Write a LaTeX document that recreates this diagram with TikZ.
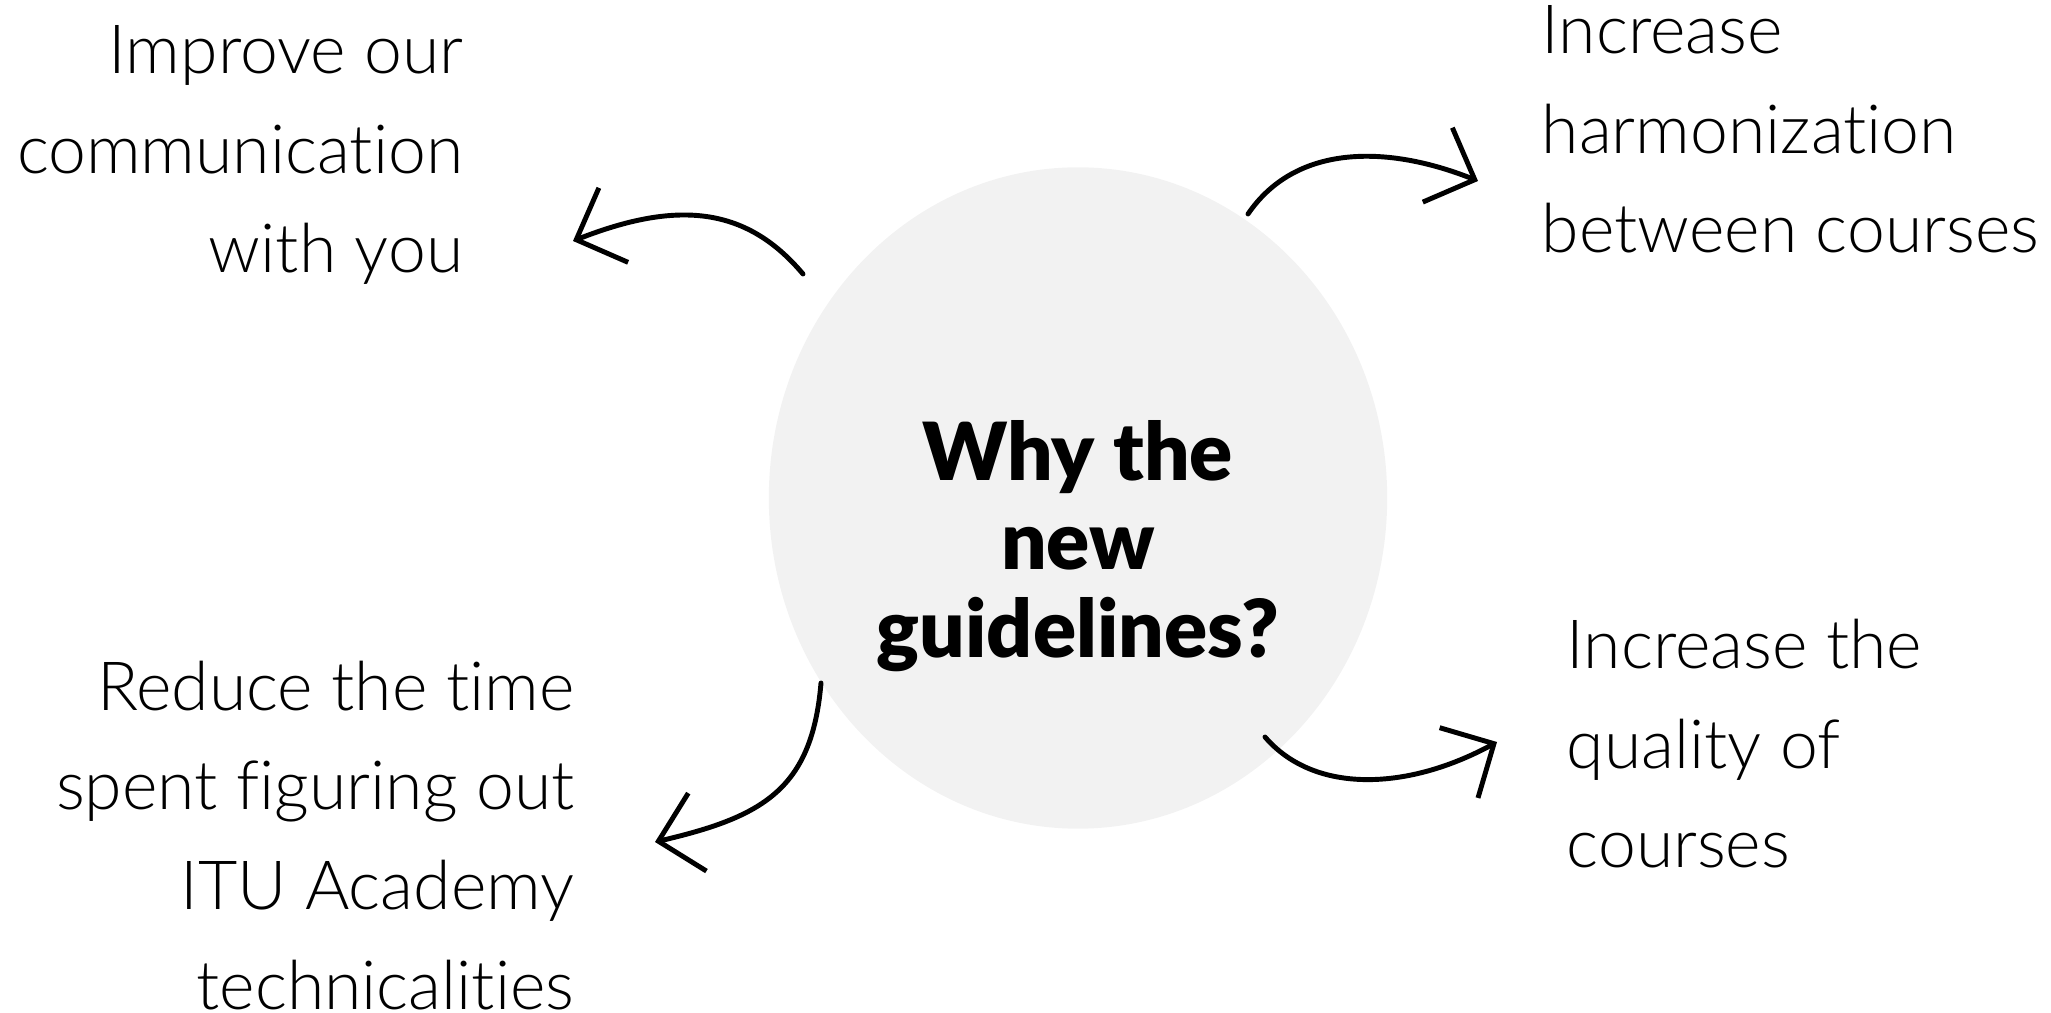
\documentclass[tikz,border=0pt]{standalone}
\usepackage{fontspec}
\setmainfont{Lato}[UprightFont=* Light, BoldFont=* Black, Ligatures=NoCommon]
\usepackage{tikz}
\usetikzlibrary{shapes.geometric, arrows.meta}
\usepackage{xcolor}
\definecolor{bubblegray}{HTML}{F2F2F2}

\begin{document}
\begin{tikzpicture}[x=0.01cm, y=-0.01cm,
    reason/.style={inner sep=0pt, font=\fontsize{19.3}{28.3}\selectfont},
    curvy/.style={line width=1.4pt, line cap=round, line join=round,
      -{Straight Barb[length=0.4cm, width=0.8cm]}}]
    \useasboundingbox (0,0) rectangle (2051,1013);
    % Circulo
    \node[ellipse, fill=bubblegray, minimum width=6.18cm, minimum height=6.61cm,
      inner sep=0pt] (bubble) at (1078,498) {};
    \node[inner sep=0pt, align=center, anchor=base,
      font=\fontsize{22.8}{25.2}\selectfont\bfseries] (why) at (1078,658)
      {Why the\\new\\guidelines?};
    % Motivos (ancorados na ultima linha)
    \node[reason, align=right, anchor=base east] (talk) at (464,273)
      {Improve our\\communication\\with you};
    \node[reason, align=left, anchor=base west] (harmony) at (1541,253)
      {Increase\\harmonization\\between courses};
    \node[reason, align=right, anchor=base east] (timesave) at (575,1009)
      {Reduce the time\\spent figuring out\\ITU Academy\\technicalities};
    \node[reason, align=left, anchor=base west] (quality) at (1566,868)
      {Increase the\\quality of\\courses};
    % Setas
    \coordinate (talk-s) at (803,274);
    \coordinate (talk-e) at (573,241);
    \coordinate (harmony-s) at (1248,214);
    \coordinate (harmony-e) at (1478,181);
    \coordinate (timesave-s) at (821,683);
    \coordinate (timesave-e) at (655,842);
    \coordinate (quality-s) at (1265,737);
    \coordinate (quality-e) at (1497,742);
    \draw[curvy] (talk-s) .. controls (745,205) and (675,201) .. (talk-e);
    \draw[curvy] (harmony-s) .. controls (1295,145) and (1385,144) .. (harmony-e);
    \draw[curvy] (timesave-s) .. controls (812,790) and (762,817) .. (timesave-e);
    \draw[curvy] (quality-s) .. controls (1315,795) and (1409,790) .. (quality-e);
\end{tikzpicture}
\end{document}
